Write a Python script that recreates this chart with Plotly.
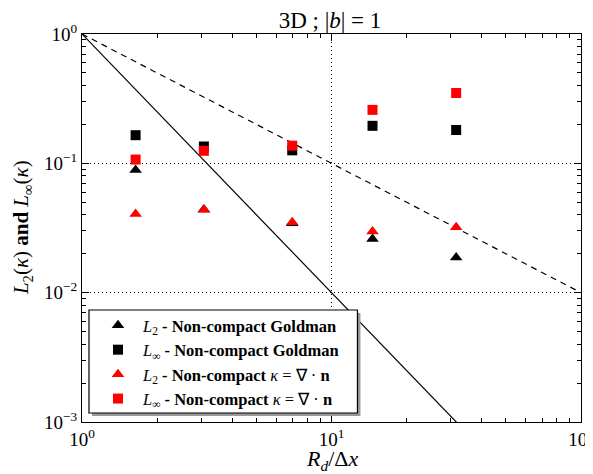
import plotly.graph_objects as go

# Data
resolution = [1.64, 3.08, 6.96, 14.6, 31.6]
l2_goldman = [0.089, 0.044, 0.0344, 0.026, 0.0187]
linf_goldman = [0.165, 0.135, 0.126, 0.195, 0.181]
l2_divn = [0.0406, 0.0437, 0.035, 0.0297, 0.032]
linf_divn = [0.107, 0.125, 0.137, 0.259, 0.35]

# Reference slope lines
ref_x = [1, 100]
second_order_y = [1, 1e-4]
first_order_y = [1, 1e-2]

x_major = [1, 10, 100]
x_major_text = ["10<sup>0</sup>", "10<sup>1</sup>", "10<sup>2</sup>"]
y_major = [1e-3, 1e-2, 1e-1, 1]
y_major_text = ["10<sup>−3</sup>", "10<sup>−2</sup>", "10<sup>−1</sup>", "10<sup>0</sup>"]
x_minor = [m * d for d in [1, 10] for m in range(2, 10)]
y_minor = [m * d for d in [1e-3, 1e-2, 1e-1] for m in range(2, 10)]

FONT = "Liberation Serif"

fig = go.Figure()

fig.add_trace(go.Scatter(x=ref_x, y=second_order_y, mode="lines",
                         line=dict(color="black", width=1.2), showlegend=False,
                         hoverinfo="skip"))
fig.add_trace(go.Scatter(x=ref_x, y=first_order_y, mode="lines",
                         line=dict(color="black", width=1.2, dash="6px,5px"),
                         showlegend=False, hoverinfo="skip"))

fig.add_trace(go.Scatter(x=resolution, y=l2_goldman, mode="markers",
                         marker=dict(symbol="triangle-up", size=11, color="black"),
                         name="<i>L</i><sub>2</sub> <b>- Non-compact Goldman</b>"))
fig.add_trace(go.Scatter(x=resolution, y=linf_goldman, mode="markers",
                         marker=dict(symbol="square", size=10, color="black"),
                         name="<i>L</i><sub>∞</sub> <b>- Non-compact Goldman</b>"))
fig.add_trace(go.Scatter(x=resolution, y=l2_divn, mode="markers",
                         marker=dict(symbol="triangle-up", size=11, color="red"),
                         name="<i>L</i><sub>2</sub> <b>- Non-compact</b> <i>κ</i> = ∇ · <b>n</b>"))
fig.add_trace(go.Scatter(x=resolution, y=linf_divn, mode="markers",
                         marker=dict(symbol="square", size=10, color="red"),
                         name="<i>L</i><sub>∞</sub> <b>- Non-compact</b> <i>κ</i> = ∇ · <b>n</b>"))

axis_common = dict(
    type="log", showline=True, linecolor="black", linewidth=1.2, mirror="allticks",
    ticks="inside", ticklen=7, tickcolor="black", tickwidth=1,
    showgrid=True, gridcolor="black", griddash="1px,3px", gridwidth=1,
    zeroline=False, automargin=False, ticklabeloverflow="allow",
    tickfont=dict(family=FONT, size=19, color="black"),
)

fig.update_xaxes(**axis_common, range=[0, 2],
                 tickvals=x_major, ticktext=x_major_text,
                 minor=dict(tickvals=x_minor, ticks="inside", ticklen=3.5,
                            tickcolor="black", tickwidth=1, showgrid=False))
fig.update_yaxes(**axis_common, range=[-3, 0],
                 tickvals=y_major, ticktext=y_major_text,
                 minor=dict(tickvals=y_minor, ticks="inside", ticklen=3.5,
                            tickcolor="black", tickwidth=1, showgrid=False))

# axis titles
fig.add_annotation(text="<i>R<sub>d</sub></i>/Δ<i>x</i>", xref="paper", yref="paper",
                   x=0.5, y=-0.097, xanchor="center", yanchor="middle", showarrow=False,
                   font=dict(family=FONT, size=22, color="black"))
fig.add_annotation(text="<i>L</i><sub>2</sub>(<i>κ</i>) <b>and</b> <i>L</i><sub>∞</sub>(<i>κ</i>)",
                   xref="paper", yref="paper", x=-0.12, y=0.5, textangle=-90,
                   xanchor="center", yanchor="middle", showarrow=False,
                   font=dict(family=FONT, size=21, color="black"))

# legend frame: shadow, then white box with black border (legend text drawn on top)
fig.add_shape(type="rect", xref="paper", yref="paper",
              x0=(91 - 81) / 500, x1=(360 - 81) / 500,
              y0=(422 - 416) / 388, y1=(422 - 313) / 388,
              fillcolor="#999", line=dict(width=0), layer="above")
fig.add_shape(type="rect", xref="paper", yref="paper",
              x0=(88 - 81) / 500, x1=(357 - 81) / 500,
              y0=(422 - 413) / 388, y1=(422 - 310) / 388,
              fillcolor="white", line=dict(color="black", width=1.2), layer="above")

fig.update_layout(
    width=585, height=466,
    margin=dict(l=73.5, r=12, t=26, b=52),
    paper_bgcolor="white", plot_bgcolor="white",
    title=dict(text="3D ; |<i>b</i>| = 1", x=(330 - 8) / 585, xanchor="center",
               y=1 - 12 / 466, yanchor="middle", yref="container",
               font=dict(family=FONT, size=23, color="black")),
    font=dict(family=FONT, color="black"),
    legend=dict(x=(92 - 81) / 500, y=(422 - 362) / 388, xanchor="left", yanchor="middle",
                bgcolor="rgba(0,0,0,0)", borderwidth=0,
                font=dict(family=FONT, size=16.5, color="black"),
                tracegroupgap=0, itemwidth=40),
    showlegend=True,
)

fig.write_html("out.html")
